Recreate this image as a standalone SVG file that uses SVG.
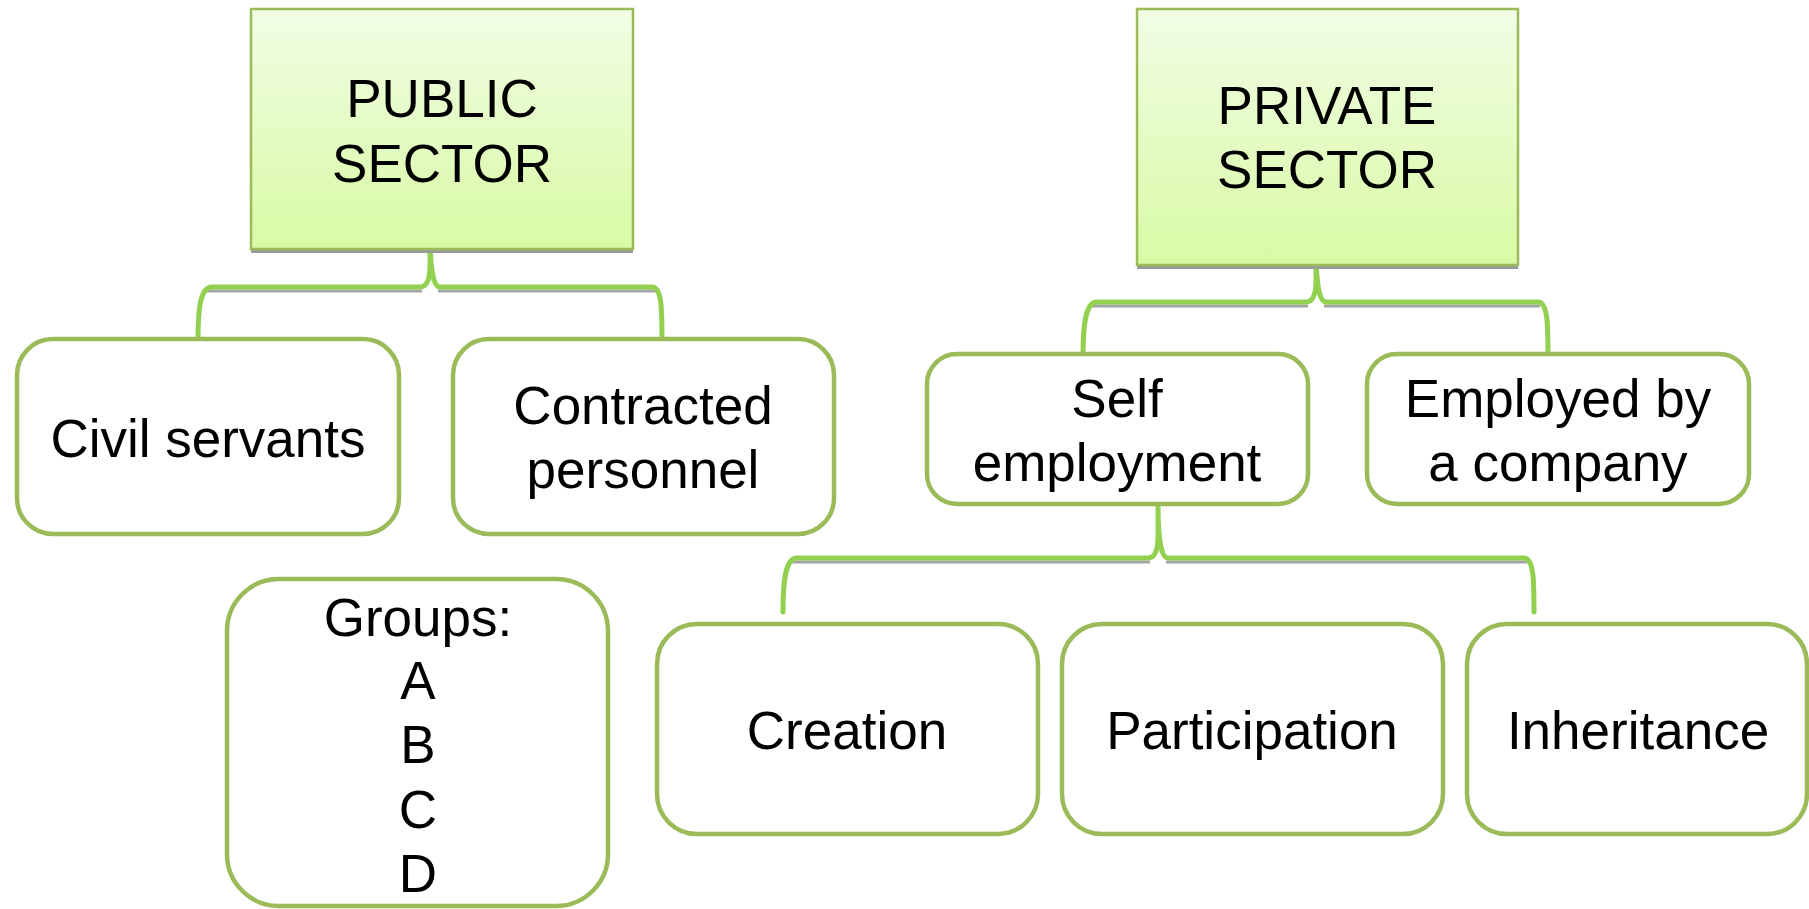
<svg xmlns="http://www.w3.org/2000/svg" width="1809" height="909" viewBox="0 0 1809 909">
<defs>
<linearGradient id="hdr" x1="0" y1="0" x2="0" y2="1">
<stop offset="0" stop-color="#F1FDE5"/>
<stop offset="1" stop-color="#D8FAA4"/>
</linearGradient>
</defs>
<style>
text{font-family:"Liberation Sans",Arial,sans-serif;font-size:53px;fill:#000;text-anchor:middle}
.hdr{fill:url(#hdr);stroke:#9BBB59;stroke-width:2.5}
.hsh{fill:#9a9a9a}
.box{fill:#fff;stroke:#9BBB59;stroke-width:4.5}
.con{fill:none;stroke:#92D050;stroke-width:5;stroke-linejoin:round;stroke-linecap:round}
.csh{fill:none;stroke:#8f8f8f;stroke-width:3;opacity:0.8}
</style>
<rect width="1809" height="909" fill="#fff"/>
<g id="connectors">
<path class="csh" d="M206,291 L422,291 M438,291 L660,291"/>
<path class="con" d="M198,340 C198,310 200,287 212,287 L420,287 Q430,287 430,265 L430,233 Q430,287 440,287 L652,287 C662,287 662,310 662,340"/>
<path class="csh" d="M1091,306 L1308,306 M1324,306 L1540,306"/>
<path class="con" d="M1083,356 C1083,326 1085,302 1097,302 L1306,302 Q1316,302 1316,280 L1316,248 Q1316,302 1326,302 L1538,302 C1548,302 1548,326 1548,356"/>
<path class="csh" d="M790,562 L1150,562 M1166,562 L1528,562"/>
<path class="con" d="M783,612 C783,582 785,558 797,558 L1148,558 Q1158,558 1158,536 L1158,504 Q1158,558 1168,558 L1524,558 C1534,558 1534,582 1534,612"/>
</g>
<g id="public-sector">
<rect class="hsh" x="251" y="248" width="382" height="5"/>
<rect class="hdr" x="251" y="9" width="382" height="240"/>
<text x="442" y="117">PUBLIC</text>
<text x="442" y="182">SECTOR</text>
</g>
<g id="private-sector">
<rect class="hsh" x="1137" y="264" width="381" height="5"/>
<rect class="hdr" x="1137" y="9" width="381" height="256"/>
<text x="1327" y="124">PRIVATE</text>
<text x="1327" y="188">SECTOR</text>
</g>
<g id="civil-servants">
<rect class="box" x="17" y="339" width="382" height="195" rx="36"/>
<text x="208" y="457">Civil servants</text>
</g>
<g id="contracted-personnel">
<rect class="box" x="453" y="339" width="381" height="195" rx="36"/>
<text x="643" y="424">Contracted</text>
<text x="643" y="488">personnel</text>
</g>
<g id="groups">
<rect class="box" x="227" y="579" width="381" height="327" rx="52"/>
<text x="418" y="636">Groups:</text>
<text x="418" y="699">A</text>
<text x="418" y="763">B</text>
<text x="418" y="828">C</text>
<text x="418" y="892">D</text>
</g>
<g id="self-employment">
<rect class="box" x="927" y="354" width="381" height="150" rx="30"/>
<text x="1117" y="417">Self</text>
<text x="1117" y="481">employment</text>
</g>
<g id="employed-by-company">
<rect class="box" x="1367" y="354" width="382" height="150" rx="30"/>
<text x="1558" y="417">Employed by</text>
<text x="1558" y="481">a company</text>
</g>
<g id="creation">
<rect class="box" x="657" y="624" width="381" height="210" rx="40"/>
<text x="847" y="749">Creation</text>
</g>
<g id="participation">
<rect class="box" x="1062" y="624" width="381" height="210" rx="40"/>
<text x="1252" y="749">Participation</text>
</g>
<g id="inheritance">
<rect class="box" x="1467" y="624" width="340" height="210" rx="40"/>
<text x="1638" y="749">Inheritance</text>
</g>
</svg>
